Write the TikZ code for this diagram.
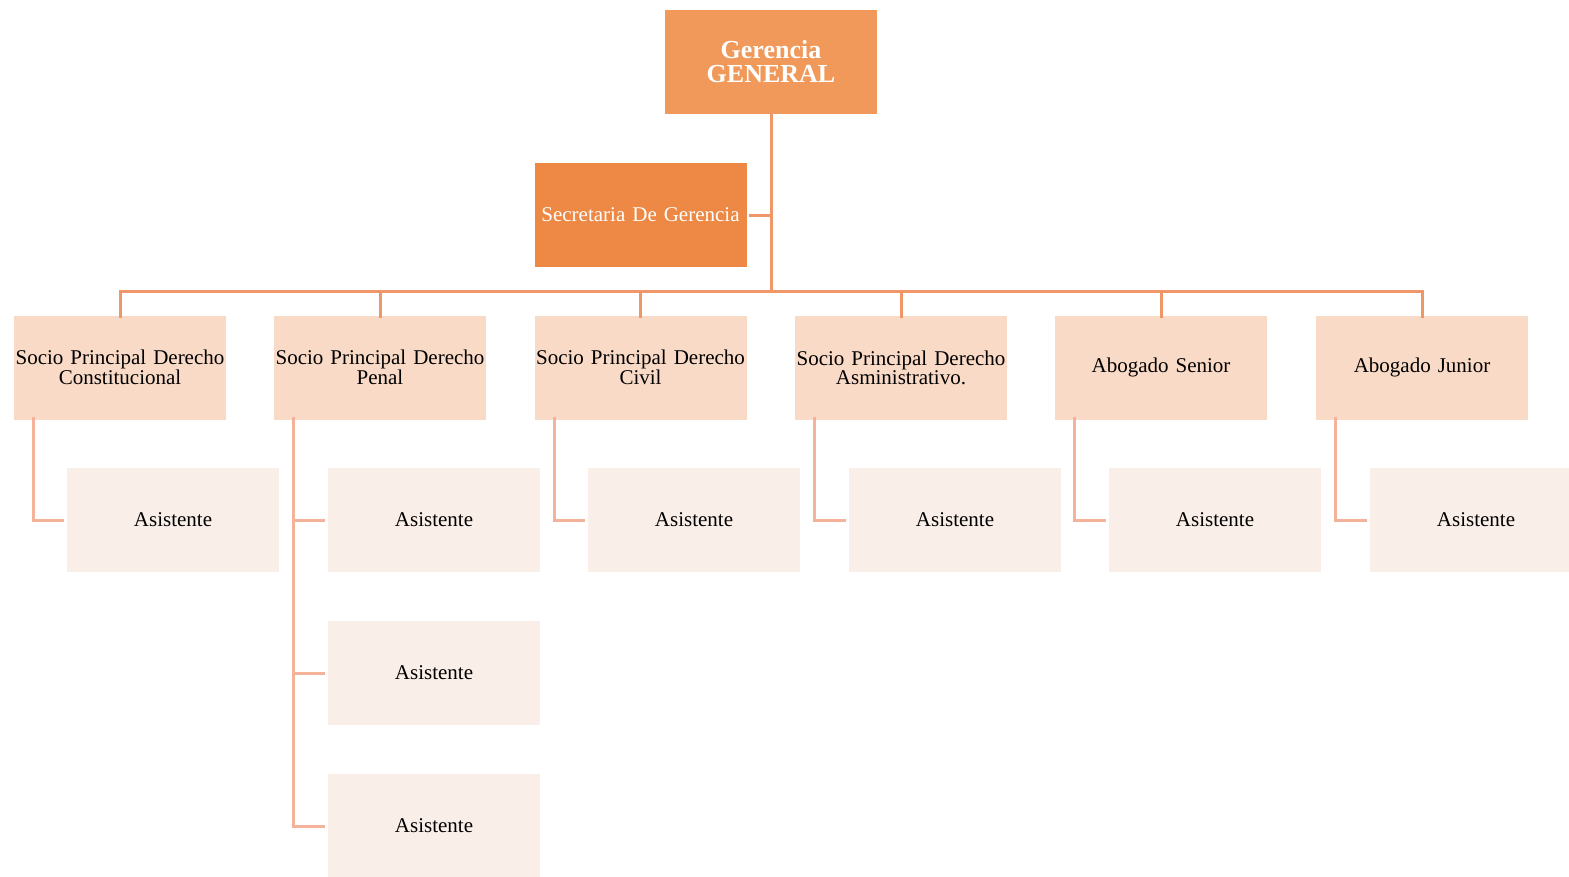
\documentclass[tikz,border=0pt]{standalone}
\usepackage{fontspec}
\setmainfont{Liberation Serif}
\usetikzlibrary{positioning}

\definecolor{gercol}{HTML}{F0995A}
\definecolor{seccol}{HTML}{ED8944}
\definecolor{sociocol}{HTML}{F9DAC6}
\definecolor{asiscol}{HTML}{FAEEE8}
\definecolor{lincol}{HTML}{F0976A}
\definecolor{linaltcol}{HTML}{F5B29A}

\tikzset{
  caja/.style={rectangle,inner sep=0pt,minimum width=212pt,minimum height=104pt,
    text width=210pt,align=center,font=\fontsize{21}{19}\selectfont},
  gerbox/.style={caja,fill=gercol,text=white,font=\fontsize{26}{24}\selectfont\bfseries},
  secbox/.style={caja,fill=seccol,text=white},
  sociobox/.style={caja,fill=sociocol},
  asisbox/.style={caja,fill=asiscol},
  linea/.style={draw=lincol,line width=3pt},
  linealt/.style={draw=linaltcol,line width=3pt}
}

\begin{document}
\begin{tikzpicture}[x=1pt,y=-1pt]
        \useasboundingbox (0,0) rectangle (1569,876);

        \node[gerbox] at (771,62) (ger) {Gerencia\\GENERAL};
        \node[secbox] at (640.5,215) (sec) {Secretaria De Gerencia};
        \coordinate (bus) at (771,291);

        \node[sociobox] at (120,367.5) (s1) {Socio Principal Derecho\\Constitucional};
        \node[sociobox] at (380,367.5) (s2) {Socio Principal Derecho\\Penal};
        \node[sociobox] at (640.5,367.5) (s3) {Socio Principal Derecho\\Civil};
        \node[sociobox] at (901,367.5) (s4) {Socio Principal Derecho\\Asministrativo.};
        \node[sociobox] at (1161,367.5) (s5) {Abogado Senior};
        \node[sociobox] at (1422,367.5) (s6) {Abogado Junior};

        \node[asisbox] at (173,520) (a1) {Asistente};
        \node[asisbox] at (434,520) (a2) {Asistente};
        \node[asisbox] at (434,673) (a2b) {Asistente};
        \node[asisbox] at (434,826) (a2c) {Asistente};
        \node[asisbox] at (694,520) (a3) {Asistente};
        \node[asisbox] at (955,520) (a4) {Asistente};
        \node[asisbox] at (1215,520) (a5) {Asistente};
        \node[asisbox] at (1476,520) (a6) {Asistente};

        % gerencia y secretaria
        \draw[linea] ([yshift=3pt]ger.south) -- (bus);
        \draw[linea] ([xshift=2pt]sec.east) -- (sec.east -| bus);
        \foreach \s in {s1,s2,s3,s4,s5,s6}
          \draw[linea] ([yshift=-3pt]\s.north) |- (bus);

        % asistentes
        \foreach \s/\a in {s1/a1,s2/a2,s2/a2b,s2/a2c,s3/a3,s4/a4,s5/a5,s6/a6}
          \draw[linealt] ([xshift=20pt,yshift=3pt]\s.south west) |- ([xshift=-3pt]\a.west);
      \end{tikzpicture}
\end{document}
